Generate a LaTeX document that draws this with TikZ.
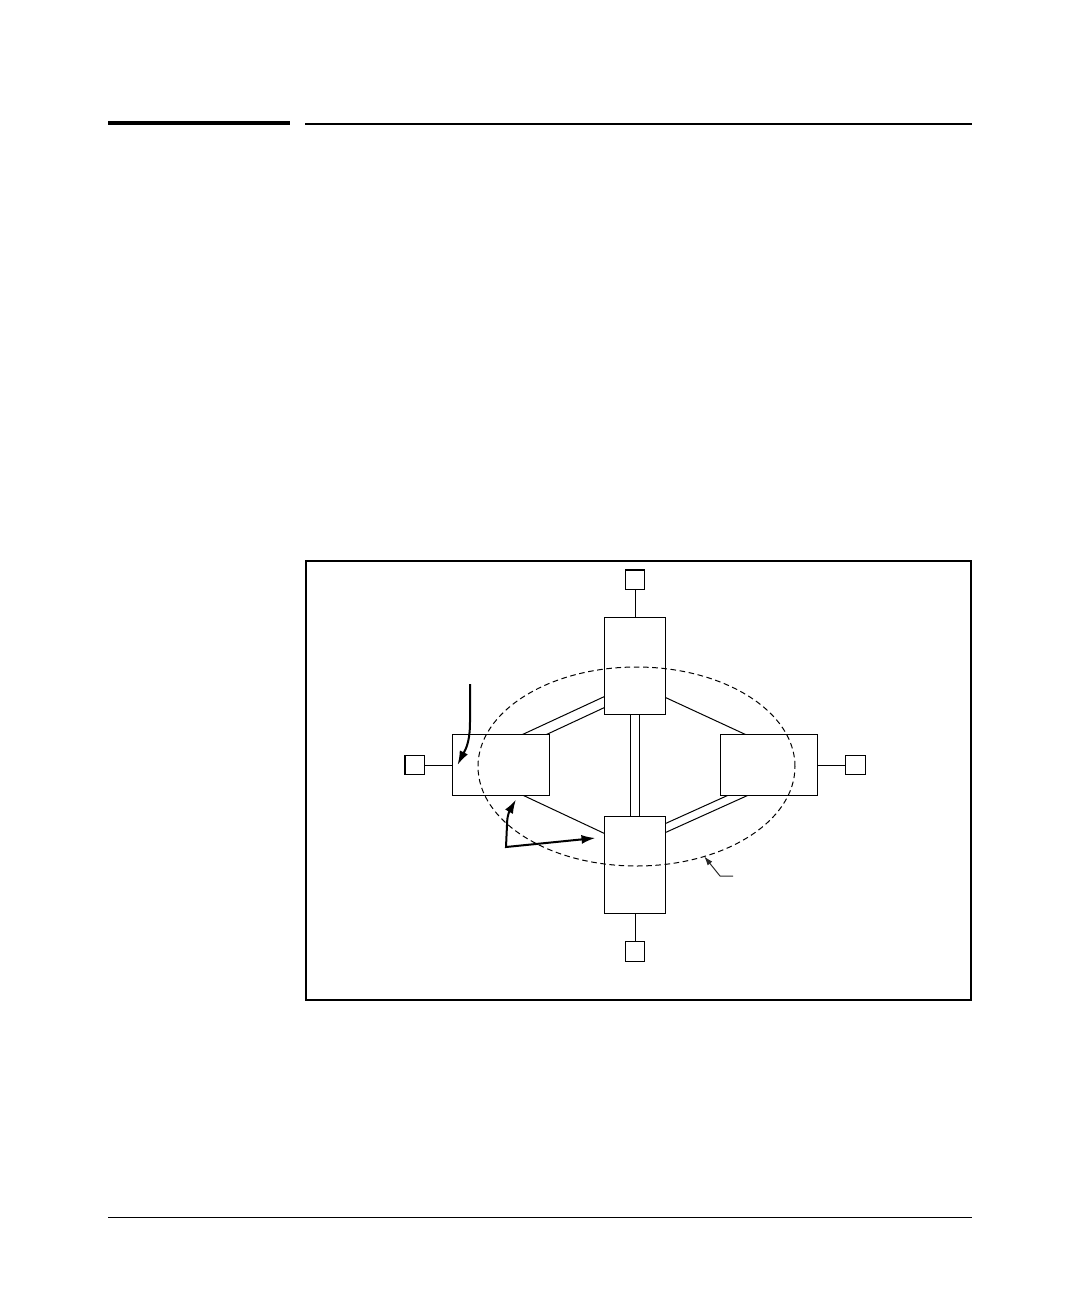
\documentclass[tikz,border=0pt]{standalone}
\usetikzlibrary{positioning,shapes.geometric,arrows.meta}

\tikzstyle{hswitch} = [rectangle, draw, fill=white, line width=0.6pt, inner sep=0pt, outer sep=0pt,
minimum width=48.5pt, minimum height=30.5pt]
\tikzstyle{vswitch} = [rectangle, draw, fill=white, line width=0.6pt, inner sep=0pt, outer sep=0pt,
minimum width=30.5pt, minimum height=48.5pt]
\tikzstyle{station} = [rectangle, draw, line width=0.6pt, inner sep=0pt, outer sep=0pt, minimum size=9.8pt]
\tikzstyle{link} = [draw, line width=0.5pt]
\tikzstyle{bigarrow} = [draw, line width=1pt, -{Latex[length=7pt,width=4.5pt]}]
\tikzstyle{leader} = [draw, line width=0.5pt, black!85, -{Latex[length=4.5pt,width=3pt]}]

\begin{document}
\begin{tikzpicture}[x=0.5pt, y=-0.5pt, node distance=14pt]
		\useasboundingbox (0,0) rectangle (1080,1296);
		\draw [line width=2pt] (108,123) -- (290,123);
		\draw [line width=1pt] (305,124) -- (972,124);
		\draw [line width=0.5pt] (108,1217) -- (972,1217);
		\draw [line width=1pt] (306,561) rectangle (971,1000);

		\node [vswitch] (TopSw) at (635,666) {};
		\node [vswitch] (BottomSw) at (635,865) {};
		\node [hswitch] (LeftSw) at (501,765) {};
		\node [hswitch] (RightSw) at (769,765) {};

		\node [station, above=of TopSw] (TopSt) {};
		\node [station, below=of BottomSw] (BottomSt) {};
		\node [station, left=of LeftSw] (LeftSt) {};
		\node [station, right=of RightSw] (RightSt) {};

		\path [link] (TopSt) -- (TopSw);
		\path [link] (BottomSt) -- (BottomSw);
		\path [link] (LeftSt) -- (LeftSw);
		\path [link] (RightSt) -- (RightSw);

		\path [link] ([yshift=9pt]TopSw.south west) -- ([xshift=-13.5pt]LeftSw.north east);
		\path [link] ([yshift=3.5pt]TopSw.south west) -- ([xshift=-1.5pt]LeftSw.north east);
		\path [link] ([xshift=-2.5pt]TopSw.south) -- ([xshift=-2.5pt]BottomSw.north);
		\path [link] ([xshift=2pt]TopSw.south) -- ([xshift=2pt]BottomSw.north);
		\path [link] ([xshift=3.5pt]RightSw.south west) -- ([yshift=-3.5pt]BottomSw.north east);
		\path [link] ([xshift=13.5pt]RightSw.south west) -- ([yshift=-8pt]BottomSw.north east);
		\path [link] ([yshift=8.5pt]TopSw.south east) -- ([xshift=12.5pt]RightSw.north west);
		\path [link] ([xshift=-13pt]LeftSw.south east) -- ([yshift=-8.5pt]BottomSw.north west);

		\node [ellipse, draw, dashed, dash pattern=on 2.8pt off 1.8pt, line width=0.5pt, inner sep=0pt, outer sep=0pt,
		minimum width=158.5pt, minimum height=99.5pt] (Ring) at (636.5,766.5) {};

		\coordinate (ArrowTail) at (470,684);
		\coordinate (Corner) at (506,847);
		\coordinate (LeaderEnd) at (733,876);

		\path [bigarrow] (ArrowTail) -- (470,722) .. controls (470,745) and (464,752) .. ([xshift=2.5pt]LeftSw.west);
		\path [bigarrow, {Latex[length=7pt,width=4.5pt]}-{Latex[length=7pt,width=4.5pt]}]
		([xshift=7.5pt, yshift=-2pt]LeftSw.south) .. controls (510,810) and (507,815) .. (507,825)
		-- (Corner) -- ([xshift=-4.5pt, yshift=13.5pt]BottomSw.west);
		\path [leader] (LeaderEnd) -- ++(-13,0) -- (Ring.-53);
	\end{tikzpicture}
\end{document}
